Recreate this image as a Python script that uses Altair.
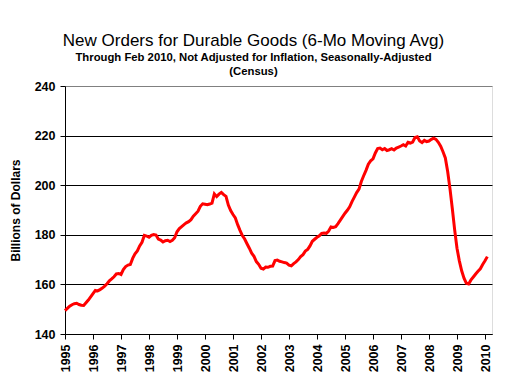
import altair as alt
import pandas as pd

start_year = 1995
values = [
    # 1995
    149.4, 150.3, 151.2, 151.8, 152.2, 152.4, 151.9, 151.6, 151.5, 152.6, 153.7, 155.0,
    # 1996
    156.3, 157.6, 157.4, 157.9, 158.5, 159.3, 160.3, 161.4, 162.2, 163.1, 164.2, 164.4,
    # 1997
    164.0, 166.0, 167.2, 167.8, 168.0, 170.5, 172.3, 173.5, 175.5, 177.0, 179.8, 179.5,
    # 1998
    179.0, 179.8, 180.1, 179.9, 178.3, 177.9, 177.1, 177.6, 177.8, 177.3, 177.8, 178.8,
    # 1999
    181.2, 182.5, 183.3, 184.1, 184.8, 185.3, 186.1, 187.5, 188.5, 189.5, 191.5, 192.5,
    # 2000
    192.3, 192.1, 192.4, 192.8, 196.5, 195.4, 196.4, 197.1, 196.2, 195.5, 192.0, 189.8,
    # 2001
    188.2, 186.8, 184.1, 181.8, 179.7, 178.3, 176.4, 174.6, 172.6, 171.3, 169.2, 168.1,
    # 2002
    166.5, 166.2, 167.0, 166.9, 167.3, 167.4, 169.6, 169.8, 169.3, 169.1, 168.8, 168.6,
    # 2003
    167.8, 167.5, 168.4, 169.1, 170.0, 171.2, 172.0, 173.4, 174.1, 175.5, 177.4, 178.2,
    # 2004
    179.0, 179.6, 180.6, 180.7, 180.6, 181.5, 183.2, 183.0, 183.3, 184.5, 185.9, 187.3,
    # 2005
    188.7, 189.9, 191.3, 193.4, 195.2, 197.0, 198.4, 201.5, 203.8, 206.0, 208.5, 209.8,
    # 2006
    210.6, 213.0, 214.8, 215.0, 214.3, 214.8, 214.0, 214.3, 214.7, 214.2, 215.0, 215.4,
    # 2007
    215.8, 216.3, 215.8, 217.3, 217.0, 217.4, 219.2, 219.5, 217.8, 217.2, 218.1, 217.6,
    # 2008
    217.8, 218.5, 219.0, 218.5, 217.3, 215.7, 213.5, 211.0, 205.5, 198.5, 190.5, 182.0,
    # 2009
    174.6, 169.5, 165.5, 162.5, 160.5, 160.2, 161.8, 163.0, 164.2, 165.3, 166.3, 168.0,
    # 2010
    169.5, 171.2,
]
year_ticks = list(range(1995, 2011))
y_ticks = [140, 160, 180, 200, 220, 240]

df = pd.DataFrame({
    "t": [start_year + i / 12 for i in range(len(values))],
    "v": values,
})

FONT = "Liberation Sans"

chart = alt.Chart(df).mark_line(color="#FF0000", strokeWidth=3).encode(
    x=alt.X("t:Q",
            scale=alt.Scale(domain=[1995, 2010.25], nice=False, zero=False),
            axis=alt.Axis(values=year_ticks, format="d", labelAngle=-90, grid=False,
                          title=None, tickSize=5, labelPadding=5, domainColor="black",
                          tickColor="black", labelColor="black", labelFont=FONT,
                          labelFontSize=12.5, labelFontWeight="bold", labelFlush=False,
                          labelOverlap=False)),
    y=alt.Y("v:Q",
            scale=alt.Scale(domain=[140, 240], nice=False, zero=False),
            axis=alt.Axis(values=y_ticks, title="Billions of Dollars", tickSize=5,
                          labelPadding=5, domainColor="black", tickColor="black",
                          gridColor=alt.condition("datum.value == 240", alt.value("#808080"), alt.value("black")),
                          gridWidth=1, gridOpacity=1,
                          labelColor="black", labelFont=FONT, labelFontSize=12.5,
                          labelFontWeight="bold", titleFont=FONT, titleFontSize=12,
                          titleFontWeight="bold", titleColor="black",
                          titleX=-50, titleY=124, titleAngle=-90, titleAlign="center",
                          titleBaseline="middle", labelFlush=False)),
).properties(
    width=427,
    height=248,
    title=alt.TitleParams(
        text="New Orders for Durable Goods (6-Mo Moving Avg)",
        subtitle=["Through Feb 2010, Not Adjusted for Inflation, Seasonally-Adjusted", "(Census)"],
        font=FONT, fontSize=17, fontWeight="normal", color="black",
        subtitleFont=FONT, subtitleFontSize=11.3, subtitleFontWeight="bold",
        subtitleColor="black", subtitleLineHeight=14, subtitlePadding=2,
        anchor="middle", frame="group", dx=-25, offset=2,
    ),
    autosize=alt.AutoSizeParams(type="none"),
    padding={"left": 57, "top": 78, "right": 5, "bottom": 38},
).configure_view(
    stroke="#808080", strokeWidth=1
).configure(background="white")

chart.save("out.html", embed_options={"renderer": "svg", "actions": False})
